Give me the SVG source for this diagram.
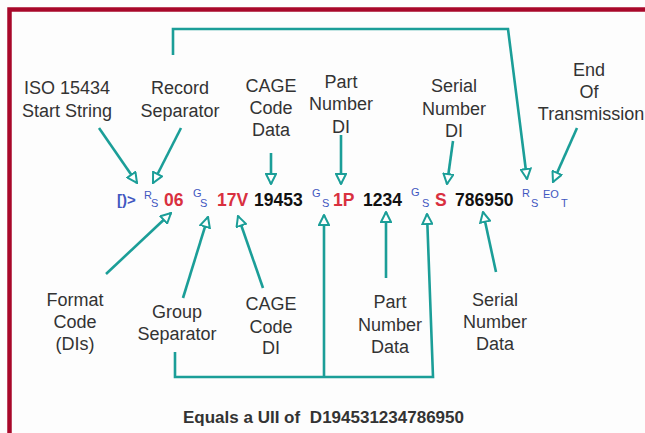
<svg xmlns="http://www.w3.org/2000/svg" width="645" height="433" viewBox="0 0 645 433">
<defs>
<marker id="ah" viewBox="0 0 12 12" refX="11" refY="6" markerWidth="12" markerHeight="12" markerUnits="userSpaceOnUse" orient="auto">
<path d="M1,1 L11,6 L1,11 Z" fill="#ffffff" stroke="#1b9e98" stroke-width="2"/>
</marker>
<style>
.lbl{font-family:"Liberation Sans",Arial,sans-serif;font-size:18px;fill:#333;text-anchor:middle}
.mono{font-family:"Liberation Sans",Arial,sans-serif;font-weight:bold;font-size:17.5px}
.blue{fill:#4157c0}
.red{fill:#d9303f}
.blk{fill:#111}
.sm{font-family:"Liberation Sans",Arial,sans-serif;font-size:11px;fill:#4157c0}
.c{fill:none;stroke:#1b9e98;stroke-width:2.6}
.a{marker-end:url(#ah)}
</style>
</defs>
<rect width="645" height="433" fill="#fdfdfd"/>
<path d="M9.5,433 V9.5 H645" fill="none" stroke="#a8082a" stroke-width="4.5"/>

<g id="connectors">
<path class="c a" d="M99,128 L137,183"/>
<path class="c a" d="M181,128 L153,183"/>
<path class="c a" d="M271,153 L271,184"/>
<path class="c a" d="M341,135 L341,184"/>
<path class="c a" d="M453,141 L447,184"/>
<path class="c a" d="M577,128 L553,182"/>
<path class="c a" d="M173,55 V29 H508 L527,179"/>
<path class="c a" d="M106,274 L171,213"/>
<path class="c a" d="M183,298 L208,217"/>
<path class="c a" d="M263,288 L238,216"/>
<path class="c a" d="M386,278 L386,212"/>
<path class="c a" d="M496,272 L483,212"/>
<path class="c a" d="M175,352 V377 H433 L427,214"/>
<path class="c a" d="M324,377 V215"/>
</g>

<g id="iso"><text class="lbl" x="67" y="94">ISO 15434</text><text class="lbl" x="67" y="117">Start String</text></g>
<g id="record"><text class="lbl" x="180" y="94">Record</text><text class="lbl" x="180" y="117">Separator</text></g>
<g id="cagedata"><text class="lbl" x="271" y="92">CAGE</text><text class="lbl" x="271" y="114">Code</text><text class="lbl" x="271" y="136">Data</text></g>
<g id="partdi"><text class="lbl" x="341" y="88">Part</text><text class="lbl" x="341" y="110">Number</text><text class="lbl" x="341" y="133">DI</text></g>
<g id="serialdi"><text class="lbl" x="454" y="92">Serial</text><text class="lbl" x="454" y="115">Number</text><text class="lbl" x="454" y="137">DI</text></g>
<g id="eot"><text class="lbl" x="589" y="76">End</text><text class="lbl" x="589" y="98">Of</text><text class="lbl" x="591" y="120">Transmission</text></g>

<g id="format"><text class="lbl" x="75" y="306">Format</text><text class="lbl" x="75" y="328">Code</text><text class="lbl" x="75" y="350">(DIs)</text></g>
<g id="group"><text class="lbl" x="177" y="318">Group</text><text class="lbl" x="177" y="340">Separator</text></g>
<g id="cagedi"><text class="lbl" x="271" y="310">CAGE</text><text class="lbl" x="271" y="333">Code</text><text class="lbl" x="271" y="354">DI</text></g>
<g id="partdata"><text class="lbl" x="390" y="308">Part</text><text class="lbl" x="390" y="331">Number</text><text class="lbl" x="390" y="353">Data</text></g>
<g id="serialdata"><text class="lbl" x="495" y="306">Serial</text><text class="lbl" x="495" y="328">Number</text><text class="lbl" x="495" y="350">Data</text></g>

<g id="string">
<text class="mono blue" x="117" y="205" style="font-size:15px">[)&gt;</text>
<text class="sm" x="144" y="199">R</text><text class="sm" x="151" y="207">S</text>
<text class="mono red" x="164" y="206">06</text>
<text class="sm" x="193" y="197">G</text><text class="sm" x="200" y="207">S</text>
<text class="mono red" x="217" y="206">17V</text>
<text class="mono blk" x="254" y="206">19453</text>
<text class="sm" x="312" y="197">G</text><text class="sm" x="322" y="207">S</text>
<text class="mono red" x="333" y="206">1P</text>
<text class="mono blk" x="363" y="206">1234</text>
<text class="sm" x="411" y="196">G</text><text class="sm" x="422" y="207">S</text>
<text class="mono red" x="435" y="206">S</text>
<text class="mono blk" x="455" y="206">786950</text>
<text class="sm" x="522" y="197">R</text><text class="sm" x="531" y="207">S</text>
<text class="sm" x="543" y="198">EO</text><text class="sm" x="561" y="207">T</text>
</g>

<g id="footer"><text x="183" y="423" font-family="Liberation Sans, Arial, sans-serif" font-weight="bold" font-size="17" fill="#333">Equals a UII of <tspan dx="5">D194531234786950</tspan></text></g>
</svg>
